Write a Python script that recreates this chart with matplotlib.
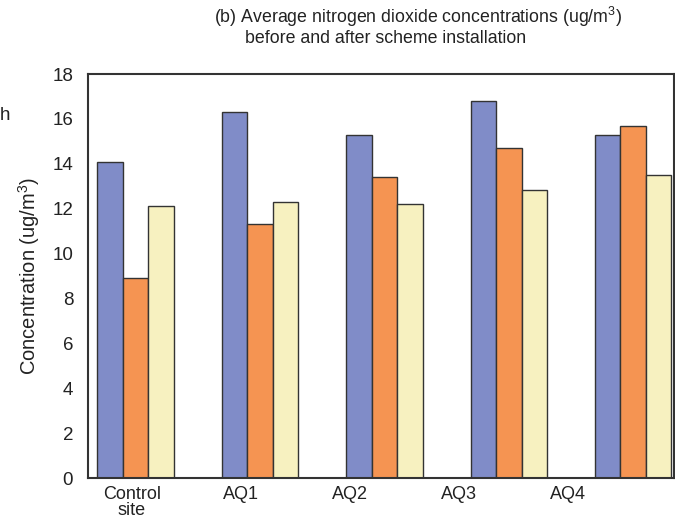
import numpy as np
import matplotlib
matplotlib.use("Agg")
import matplotlib.pyplot as plt
from matplotlib.patches import Circle

plt.rcParams['font.family'] = ['Liberation Sans', 'DejaVu Sans']
plt.rcParams['mathtext.default'] = 'regular'

# data
sites = ["Control\nsite", "AQ1", "AQ2", "AQ3", "AQ4"]
series_a = [14.1, 16.3, 15.3, 16.8, 15.3]   # blue
series_b = [8.9, 11.3, 13.4, 14.7, 15.7]    # orange
series_c = [12.1, 12.3, 12.2, 12.85, 13.5]  # pale yellow
colors = ["#808CC8", "#F59452", "#F7F1C0"]

fig = plt.figure(figsize=(6.75, 5.25), dpi=100)
ax = fig.add_axes([0.1311, 0.0895, 0.8674, 0.7695])

x = np.arange(len(sites))
w = 0.205
for k, vals in enumerate([series_a, series_b, series_c]):
    ax.bar(x + (k - 1) * w, vals, width=w, color=colors[k],
           edgecolor="#333333", linewidth=1.0)

ax.set_xlim(-0.379, 4.328)
ax.set_ylim(0, 18)
ax.set_yticks(np.arange(0, 19, 2))
# labels in the original sit a bit left of the bar groups
ax.set_xticks(-0.03 + 0.877 * x)
ax.set_xticklabels(sites, linespacing=0.9)
ax.tick_params(axis="y", length=0, pad=11, labelsize=13.5, colors="#222222")
ax.tick_params(axis="x", length=0, pad=6, labelsize=13, colors="#222222")

for s in ax.spines.values():
    s.set_linewidth(1.5)
    s.set_color("#333333")

ax.set_ylabel("Concentration (ug/m$^{3}$)", fontsize=14.5, color="#222222")
ax.yaxis.set_label_coords(-0.08, 0.5)

fig.text(418 / 675, 1 - 17 / 525,
         "(b) Average nitrogen dioxide concentrations (ug/m$^{3}$)",
         ha="center", va="center", fontsize=12.8, color="#222222")
fig.text(386 / 675, 1 - 38.5 / 525, "before and after scheme installation",
         ha="center", va="center", fontsize=12.8, color="#222222")

# bits of the neighbouring panel at the left edge
fig.text(0.0, 1 - 115 / 525, "h", ha="left", va="center",
         fontsize=13.5, color="#222222")
fig.patches.append(Circle((-0.03, 1.03), 0.04, transform=fig.transFigure,
                          facecolor="#F7E27A", edgecolor="#F08A6A",
                          linewidth=2, figure=fig))

fig.savefig("out.png", dpi=100)
